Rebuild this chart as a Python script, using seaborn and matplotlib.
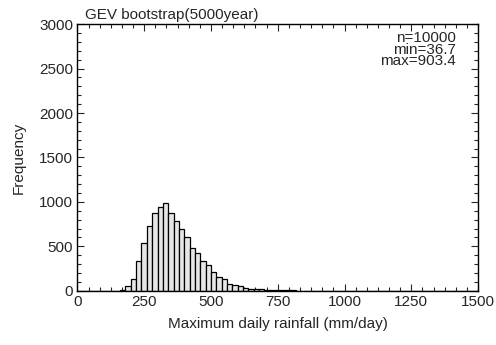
"""
plot.py
-------
GEV bootstrap histogram of maximum daily rainfall (5000-year return level).
"""

import matplotlib

matplotlib.use("Agg")
import matplotlib.pyplot as plt
import pandas as pd
import seaborn as sns
from matplotlib.ticker import MultipleLocator

# bin left edges (mm/day), bin width 20
BIN_LEFT = [20, 100, 120, 140, 160, 180, 200, 220, 240, 260, 280, 300, 320, 340,
            360, 380, 400, 420, 440, 460, 480, 500, 520, 540, 560, 580, 600,
            620, 640, 660, 680, 700, 720, 740, 760, 780, 800, 820, 840, 860,
            880, 900]
COUNTS = [1, 1, 2, 3, 7, 60, 135, 337, 539, 727, 873, 948, 985, 873,
          783, 693, 603, 487, 427, 337, 285, 213, 157, 135, 75, 64, 56,
          37, 26, 19, 19, 15, 11, 7, 6, 5, 4, 3, 2, 2,
          1, 1]
TITLE = "GEV bootstrap(5000year)"
STATS = ["n=10000", "min=36.7", "max=903.4"]

df = pd.DataFrame({"rain": BIN_LEFT, "count": COUNTS})

sns.set_style("ticks")
plt.rcParams["font.family"] = ["Liberation Sans", "DejaVu Sans"]

fig = plt.figure(figsize=(4.96, 3.45), dpi=100)
ax = fig.add_axes([0.156, 0.157, 0.808, 0.773])

sns.histplot(data=df, x="rain", weights="count", binwidth=20, binrange=(0, 1500),
             color="#e6e6e6", edgecolor="black", linewidth=0.9, alpha=1, ax=ax)

ax.set_xlim(0, 1500)
ax.set_ylim(0, 3000)
ax.xaxis.set_major_locator(MultipleLocator(250))
ax.xaxis.set_minor_locator(MultipleLocator(250 / 6))
ax.yaxis.set_major_locator(MultipleLocator(500))
ax.yaxis.set_minor_locator(MultipleLocator(100))
ax.tick_params(which="both", direction="in", top=True, right=True, labelsize=11, width=0.8)
ax.tick_params(which="major", length=5, pad=3)
ax.tick_params(which="minor", length=3)
for s in ax.spines.values():
    s.set_linewidth(1.0)
    s.set_color("black")

ax.set_xlabel("Maximum daily rainfall (mm/day)", fontsize=11, labelpad=6)
ax.set_ylabel("Frequency", fontsize=11, labelpad=10)
ax.set_title(TITLE, fontsize=11, loc="left", pad=4, x=0.02)
ax.text(0.945, 0.975, "\n".join(STATS), transform=ax.transAxes, ha="right", va="top",
        fontsize=11, linespacing=0.8, multialignment="right")

fig.savefig("out.png", dpi=100)
